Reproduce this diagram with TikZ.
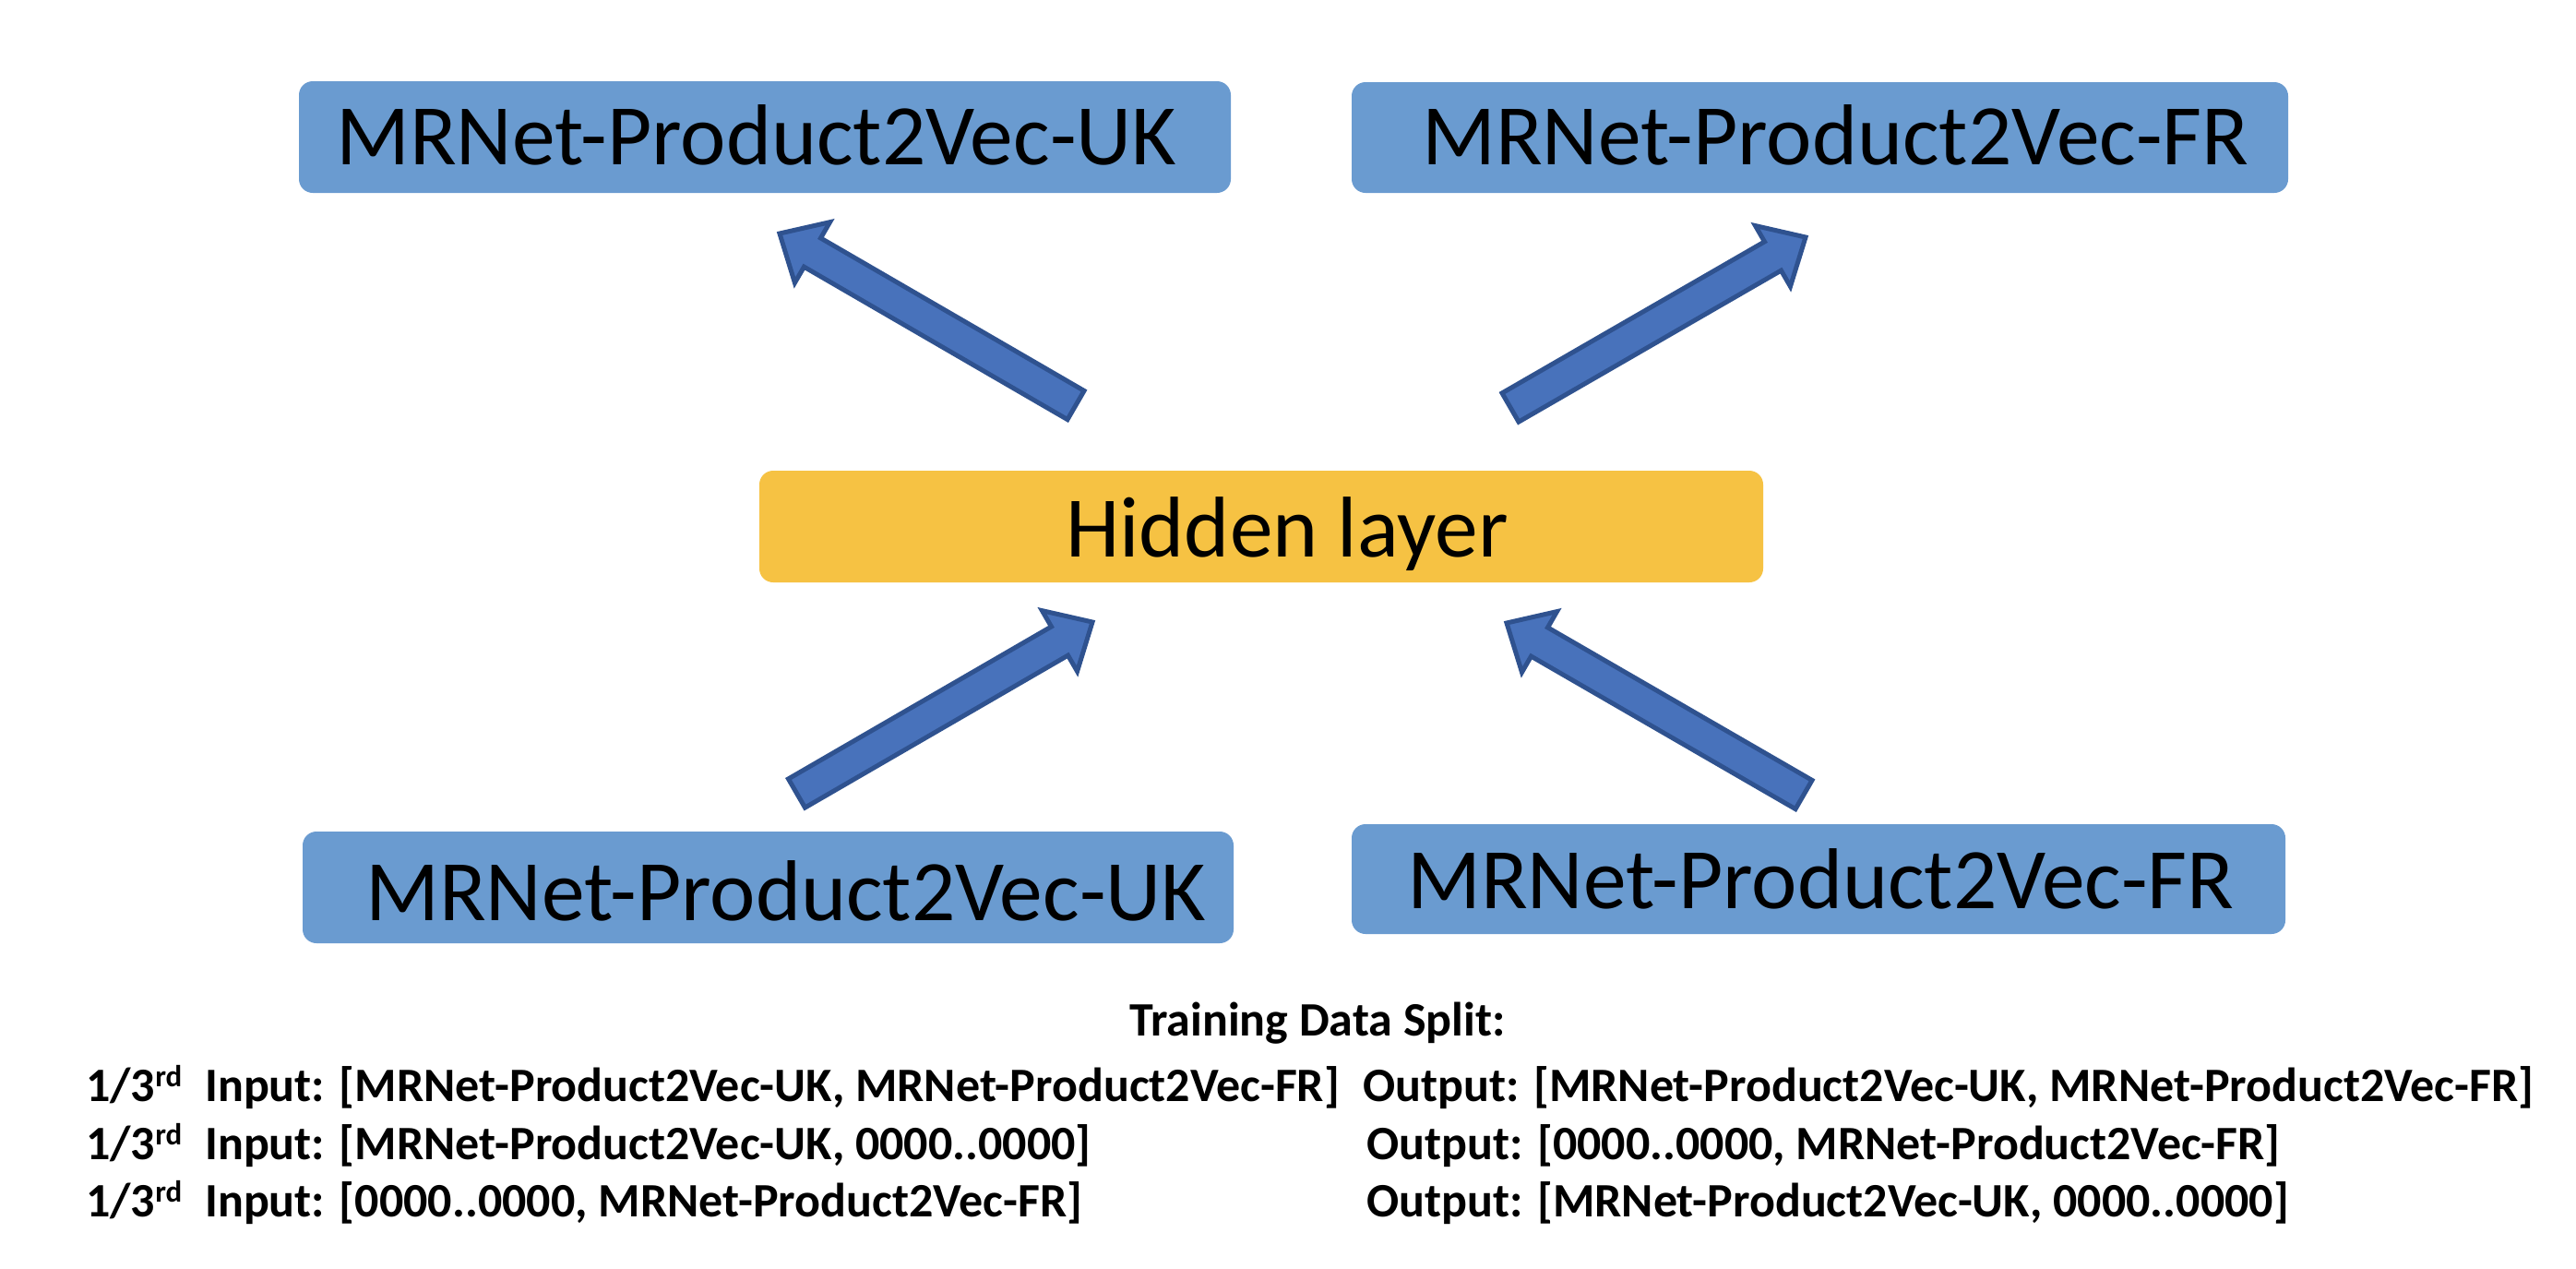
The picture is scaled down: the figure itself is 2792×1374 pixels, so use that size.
\documentclass[tikz,border=0pt]{standalone}
\usepackage{fontspec}
\setmainfont{Carlito}
\usetikzlibrary{calc}
\definecolor{boxblue}{HTML}{6A9BD0}
\definecolor{arrfill}{HTML}{4872BB}
\definecolor{arrline}{HTML}{2F528F}
\definecolor{gold}{HTML}{F6C243}
\newcommand\blockarrow[2]{%
  \coordinate (hb) at ($(#2)!41pt!(#1)$);
  \draw[arr] ($(#1)!18pt!90:(#2)$) -- ($(hb)!18pt!90:(#2)$) -- ($(hb)!38pt!90:(#2)$) -- (#2)
    -- ($(hb)!38pt!-90:(#2)$) -- ($(hb)!18pt!-90:(#2)$) -- ($(#1)!18pt!-90:(#2)$) -- cycle;}
\begin{document}
\begin{tikzpicture}[x=1pt,y=-1pt,
  bx/.style={fill=boxblue, rounded corners=15pt, inner sep=0pt},
  hbx/.style={fill=gold, rounded corners=15pt, inner sep=0pt},
  big/.style={font=\fontsize{93.5}{110}\selectfont, inner sep=0pt, anchor=base west},
  sm/.style={font=\bfseries\fontsize{52}{60}\selectfont, inner sep=0pt, anchor=base west},
  arr/.style={fill=arrfill, draw=arrline, line width=5pt, line join=miter}]
\useasboundingbox[fill=white] (0,0) rectangle (2792,1374);
% boxes
\node[bx, minimum width=1010pt, minimum height=121pt] (tl) at (829,148.5) {};
\node[bx, minimum width=1015pt, minimum height=120pt] (tr) at (1972.5,149) {};
\node[hbx, minimum width=1088pt, minimum height=121pt] (hl) at (1367,570.5) {};
\node[bx, minimum width=1009pt, minimum height=121pt] (bl) at (832.5,961.5) {};
\node[bx, minimum width=1012pt, minimum height=119pt] (br) at (1971,952.5) {};
% box texts
\node[big] (tlt) at (364,178) {MRNet-Product2Vec-UK};
\node[big] (trt) at (1541,178) {MRNet-Product2Vec-FR};
\node[big] (hlt) at (1155,603) {Hidden layer};
\node[big] (blt) at (396,997) {MRNet-Product2Vec-UK};
\node[big] (brt) at (1525,984) {MRNet-Product2Vec-FR};
% arrows
\coordinate (a1s) at (1166,439); \coordinate (a1e) at (845,253);
\coordinate (a2s) at (1637,441.5); \coordinate (a2e) at (1957,257);
\coordinate (a3s) at (863.5,859.5); \coordinate (a3e) at (1184,674);
\coordinate (a4s) at (1955,861); \coordinate (a4e) at (1633,675);
\blockarrow{a1s}{a1e}
\blockarrow{a2s}{a2e}
\blockarrow{a3s}{a3e}
\blockarrow{a4s}{a4e}
% training text
\node[sm] (title) at (1224,1122) {Training Data Split:};
\node[sm] (f1) at (93,1193) {1/3\raisebox{16pt}{\fontsize{33}{33}\selectfont rd}};
\node[sm] (f2) at (93,1256) {1/3\raisebox{16pt}{\fontsize{33}{33}\selectfont rd}};
\node[sm] (f3) at (93,1318) {1/3\raisebox{16pt}{\fontsize{33}{33}\selectfont rd}};
\node[sm] (i1) at (222,1193) {Input: [MRNet-Product2Vec-UK, MRNet-Product2Vec-FR]};
\node[sm] (i2) at (222,1256) {Input: [MRNet-Product2Vec-UK, 0000..0000]};
\node[sm] (i3) at (222,1318) {Input: [0000..0000, MRNet-Product2Vec-FR]};
\node[sm] (o1) at (1477,1193) {Output: [MRNet-Product2Vec-UK, MRNet-Product2Vec-FR]};
\node[sm] (o2) at (1481,1256) {Output: [0000..0000, MRNet-Product2Vec-FR]};
\node[sm] (o3) at (1481,1318) {Output: [MRNet-Product2Vec-UK, 0000..0000]};
\end{tikzpicture}
\end{document}
